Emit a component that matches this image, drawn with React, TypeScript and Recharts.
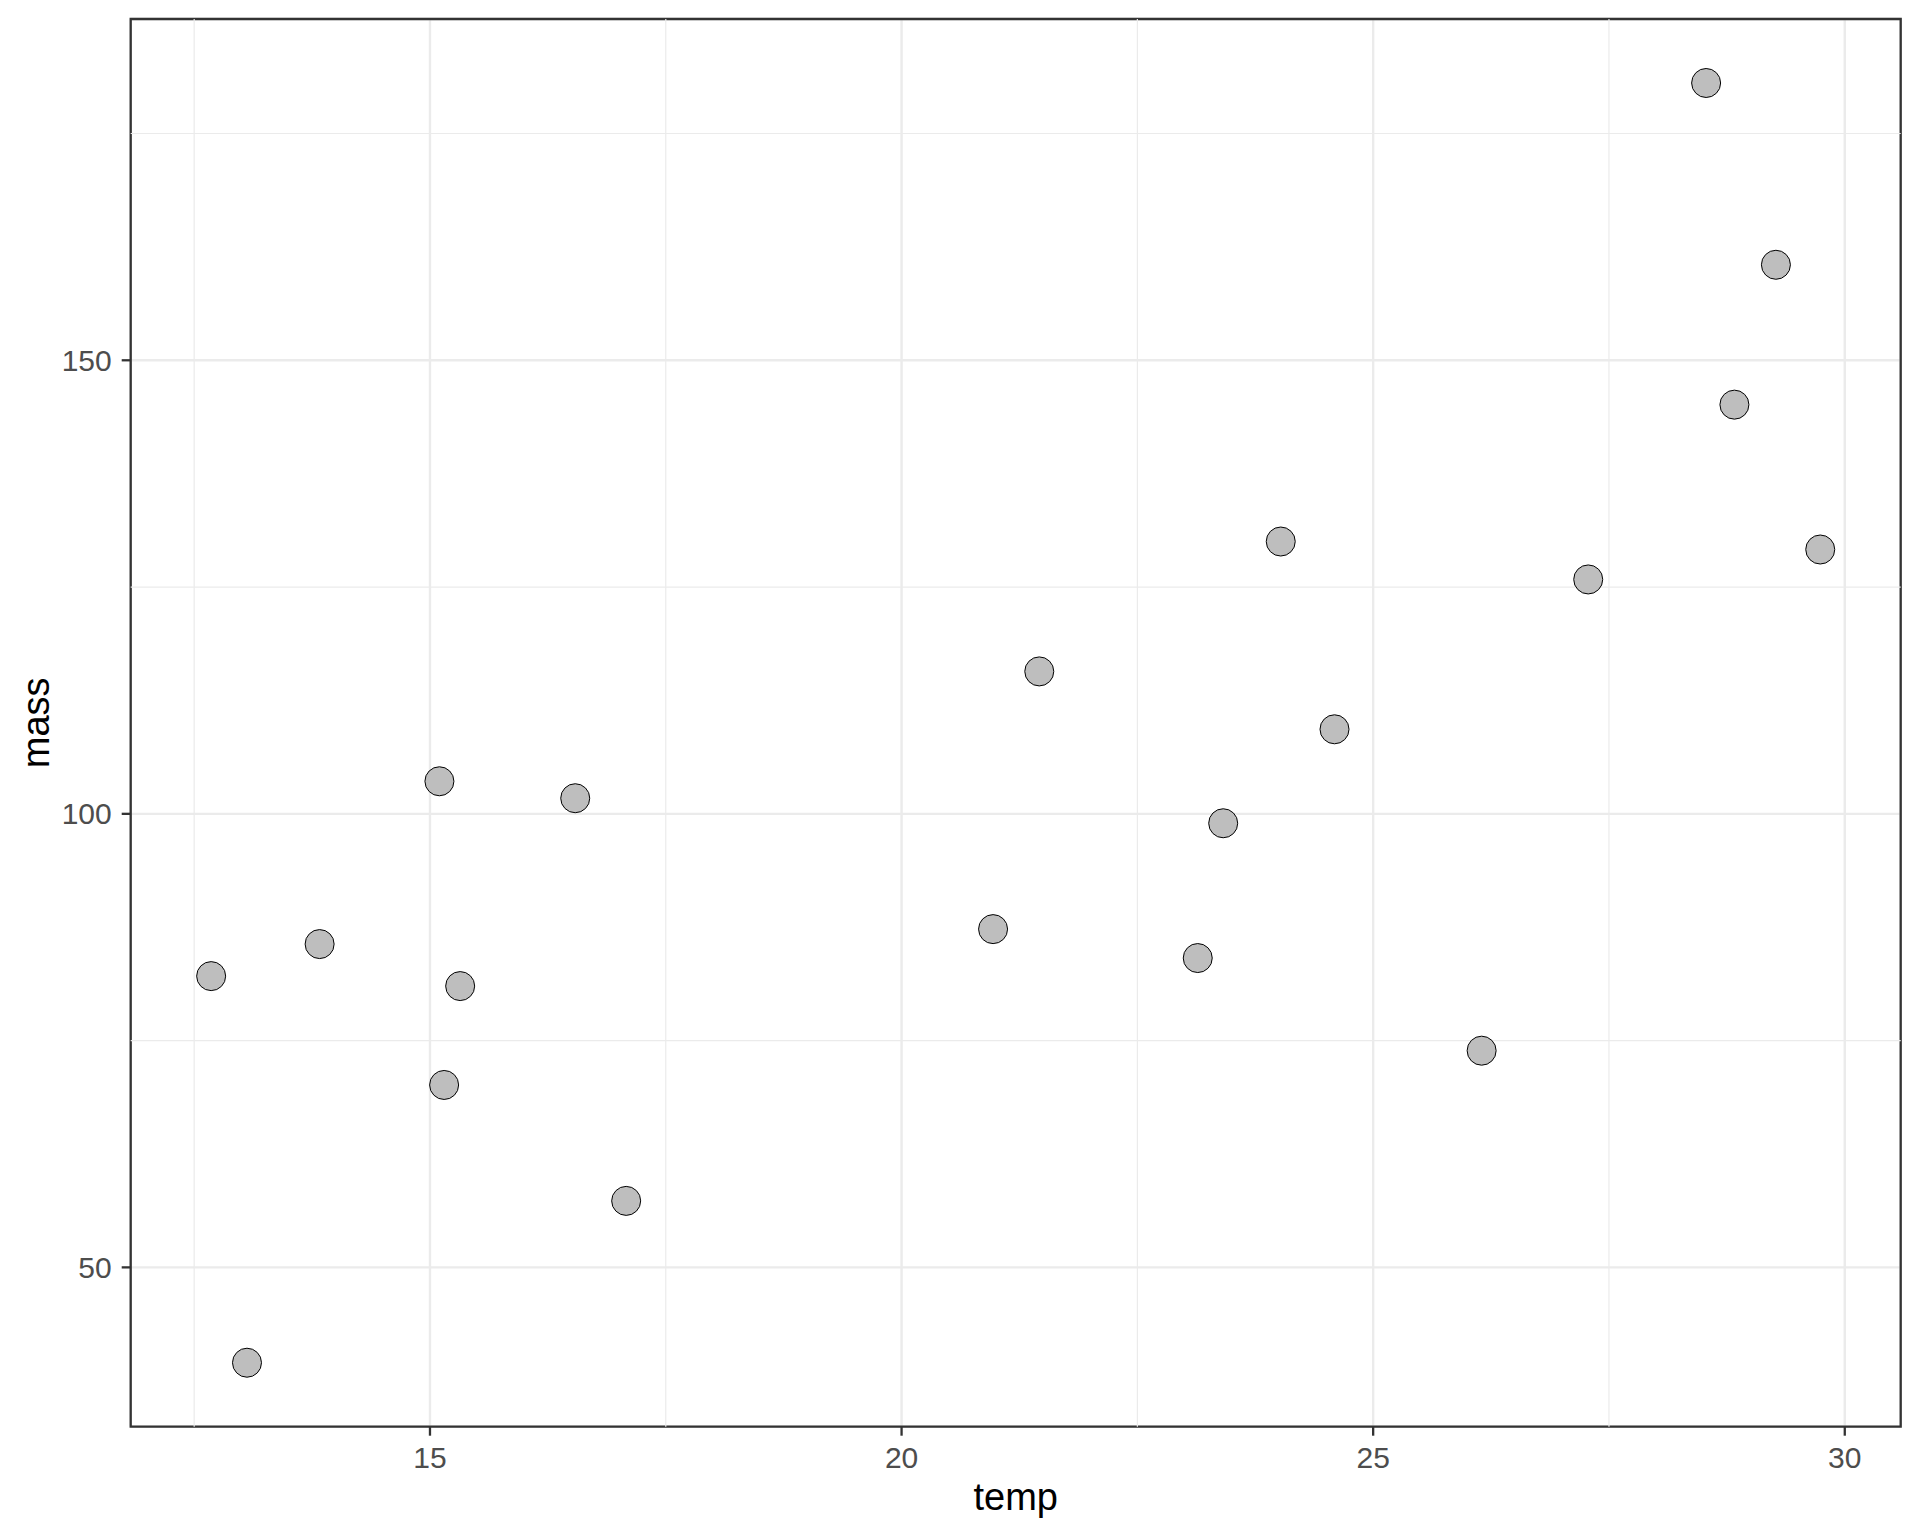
import {
  ScatterChart,
  Scatter,
  XAxis,
  YAxis,
  CartesianGrid,
  ReferenceLine,
  ReferenceArea,
  Label,
} from 'recharts'

// values
const temp = [
  12.68, 13.06, 13.83, 15.1, 15.32, 15.15, 16.54, 17.08, 20.97, 21.46,
  23.14, 23.41, 24.02, 24.59, 26.15, 27.28, 28.53, 29.27, 28.83, 29.74,
]
const mass = [
  82.11, 39.49, 85.64, 103.59, 81.01, 70.11, 101.72, 57.33, 87.29, 115.7,
  84.1, 98.96, 130.02, 109.32, 73.89, 125.84, 180.57, 160.53, 145.11, 129.14,
]

const xTicks = [15, 20, 25, 30]
const xMinor = [12.5, 17.5, 22.5, 27.5]
const yTicks = [50, 100, 150]
const yMinor = [75, 125, 175]

// ggplot-style 5% expansion around the data range
const expand = (vals: number[]): [number, number] => {
  const lo = Math.min(...vals)
  const hi = Math.max(...vals)
  const pad = (hi - lo) * 0.05
  return [lo - pad, hi + pad]
}
const xDomain = expand(temp)
const yDomain = expand(mass)

const points = temp.map((t, i) => ({ temp: t, mass: mass[i] }))

const FONT = '"Liberation Sans", Arial, Helvetica, sans-serif'
const GRID = '#EBEBEB'
const DARK = '#333333'

const Dot = (props: any) => (
  <circle cx={props.cx} cy={props.cy} r={14.5} fill="#BEBEBE" stroke="#000" strokeWidth={1} />
)

const XTitle = ({ viewBox }: any) => (
  <text
    x={viewBox.x + viewBox.width / 2}
    y={viewBox.y + viewBox.height}
    textAnchor="middle"
    fontSize={38}
    fontFamily={FONT}
    fill="#000"
  >
    temp
  </text>
)

const YTitle = ({ viewBox }: any) => {
  const x = viewBox.x + 18.3
  const y = viewBox.y + viewBox.height / 2
  return (
    <text
      x={x}
      y={y}
      transform={`rotate(-90, ${x}, ${y})`}
      textAnchor="middle"
      fontSize={38}
      fontFamily={FONT}
      fill="#000"
    >
      mass
    </text>
  )
}

export default function App() {
  const tickStyle = { fill: '#4D4D4D', fontSize: 30, fontFamily: FONT }
  return (
    <div>
      <style>{'body{margin:0;background:#fff}'}</style>
      <ScatterChart
        width={1920}
        height={1536}
        margin={{ top: 19, right: 19.3, bottom: 26, left: 30.7 }}
        style={{ fontFamily: FONT, background: '#fff' }}
      >
        <CartesianGrid stroke={GRID} strokeWidth={2.4} />
        {xMinor.map((v) => (
          <ReferenceLine key={'xm' + v} x={v} stroke={GRID} strokeWidth={1.2} />
        ))}
        {yMinor.map((v) => (
          <ReferenceLine key={'ym' + v} y={v} stroke={GRID} strokeWidth={1.2} />
        ))}
        <XAxis
          type="number"
          dataKey="temp"
          domain={xDomain}
          allowDataOverflow
          ticks={xTicks}
          interval={0}
          height={83.3}
          axisLine={false}
          tickLine={{ stroke: DARK, strokeWidth: 2.3 }}
          tickSize={9}
          tickMargin={11}
          tick={tickStyle}
        >
          <Label content={XTitle} />
        </XAxis>
        <YAxis
          type="number"
          dataKey="mass"
          domain={yDomain}
          allowDataOverflow
          ticks={yTicks}
          interval={0}
          width={100}
          axisLine={false}
          tickLine={{ stroke: DARK, strokeWidth: 2.3 }}
          tickSize={9}
          tickMargin={10}
          tick={tickStyle}
        >
          <Label content={YTitle} />
        </YAxis>
        <Scatter data={points} shape={Dot} isAnimationActive={false} />
        <ReferenceArea
          x1={xDomain[0]}
          x2={xDomain[1]}
          y1={yDomain[0]}
          y2={yDomain[1]}
          fill="none"
          fillOpacity={0}
          stroke={DARK}
          strokeWidth={2.3}
          ifOverflow="visible"
        />
      </ScatterChart>
    </div>
  )
}
